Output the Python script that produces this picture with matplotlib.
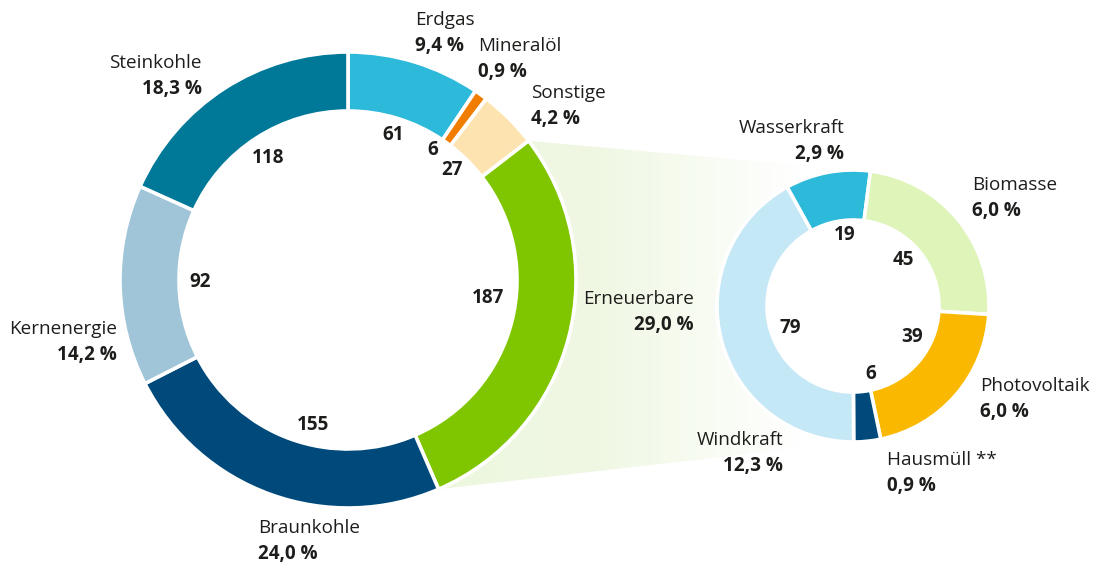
import numpy as np
import matplotlib
matplotlib.use("Agg")
import matplotlib.pyplot as plt
from matplotlib.colors import LinearSegmentedColormap
from matplotlib.patches import Polygon, Circle

W, H = 1094, 568
FONT = ["Open Sans", "Lato", "DejaVu Sans"]
TEXT = "#1d1d1b"
FS = 13.6

# main mix (TWh)
main_names = ["Erdgas", "Mineralöl", "Sonstige", "Erneuerbare",
              "Braunkohle", "Kernenergie", "Steinkohle"]
main_values = [61, 6, 27, 187, 155, 92, 118]
main_shares = ["9,4 %", "0,9 %", "4,2 %", "29,0 %", "24,0 %", "14,2 %", "18,3 %"]
main_colors = ["#2cb9da", "#f07d00", "#fde3b0", "#80c600",
               "#004a7b", "#a0c5d8", "#007898"]

# renewables breakdown (TWh)
ren_names = ["Wasserkraft", "Biomasse", "Photovoltaik", "Hausmüll **", "Windkraft"]
ren_values = [19, 45, 39, 6, 79]
ren_shares = ["2,9 %", "6,0 %", "6,0 %", "0,9 %", "12,3 %"]
ren_colors = ["#2cb9da", "#def4b8", "#fab900", "#004a7b", "#c5e8f6"]

# layout in pixel coordinates (origin top-left)
BIG_C, BIG_R, BIG_W = (348, 280), 228, 59
SMALL_C, SMALL_R, SMALL_W = (853, 306), 136, 50

main_name_pos = [(415, 20, "left"), (478, 46, "left"), (531, 93, "left"),
                 (694, 299, "right"), (258, 528, "left"), (117, 329, "right"),
                 (202, 63, "right")]
main_value_pos = [(393, 135), (433, 150), (452, 170), (488, 298),
                  (313, 425), (200, 282), (268, 158)]
ren_name_pos = [(844, 128, "right"), (972, 185, "left"), (980, 386, "left"),
                (887, 460, "left"), (783, 440, "right")]
ren_value_pos = [(845, 235), (903, 260), (912, 337), (871, 374), (790, 328)]


def px(x, y):
    return x, H - y


fig = plt.figure(figsize=(W / 100, H / 100), dpi=100)
ax = fig.add_axes([0, 0, 1, 1])

wedges_big, _ = ax.pie(main_values, colors=main_colors, center=px(*BIG_C),
                       radius=BIG_R, startangle=90, counterclock=False,
                       wedgeprops=dict(width=BIG_W, edgecolor="white", linewidth=2.6),
                       frame=True)
ax.pie(ren_values, colors=ren_colors, center=px(*SMALL_C), radius=SMALL_R,
       startangle=119, counterclock=False,
       wedgeprops=dict(width=SMALL_W, edgecolor="white", linewidth=2.6),
       frame=True)

# shaded link between the Erneuerbare segment and the breakdown donut
w = wedges_big[main_names.index("Erneuerbare")]
cx, cy = w.center
t1, t2 = np.deg2rad(w.theta1), np.deg2rad(w.theta2)
p_end = (cx + w.r * np.cos(t1), cy + w.r * np.sin(t1))
p_start = (cx + w.r * np.cos(t2), cy + w.r * np.sin(t2))
sx, sy = px(*SMALL_C)
link = Polygon([p_start, (sx, sy + SMALL_R), (sx, sy - SMALL_R), p_end],
               closed=True, facecolor="none", edgecolor="none")
ax.add_patch(link)
cmap = LinearSegmentedColormap.from_list(
    "link", [(0, "#edf7df"), (0.45, "#f0f8e4"), (1, "#ffffff")])
grad = np.linspace(0, 1, 256).reshape(1, -1)
img = ax.imshow(grad, cmap=cmap, extent=(440, 800, 0, H), aspect="auto",
                zorder=0, interpolation="bilinear")
img.set_clip_path(link)

# keep the donut holes white
ax.add_patch(Circle(px(*BIG_C), BIG_R - BIG_W, facecolor="white", edgecolor="none", zorder=0.5))
ax.add_patch(Circle(px(*SMALL_C), SMALL_R - SMALL_W, facecolor="white", edgecolor="none", zorder=0.5))

for name, share, (x, y, ha) in zip(main_names + ren_names,
                                   main_shares + ren_shares,
                                   main_name_pos + ren_name_pos):
    ax.text(*px(x, y), name, ha=ha, va="center", fontsize=FS,
            family=FONT, color=TEXT)
    ax.text(*px(x, y + 26), share, ha=ha, va="center", fontsize=FS,
            family=FONT, color=TEXT, fontweight="bold")

for val, (x, y) in zip(main_values + ren_values, main_value_pos + ren_value_pos):
    ax.text(*px(x, y), str(val), ha="center", va="center", fontsize=FS,
            family=FONT, color=TEXT, fontweight="bold")

ax.set_xlim(0, W)
ax.set_ylim(0, H)
ax.set_aspect("equal")
ax.axis("off")

fig.savefig("out.png", dpi=100)
